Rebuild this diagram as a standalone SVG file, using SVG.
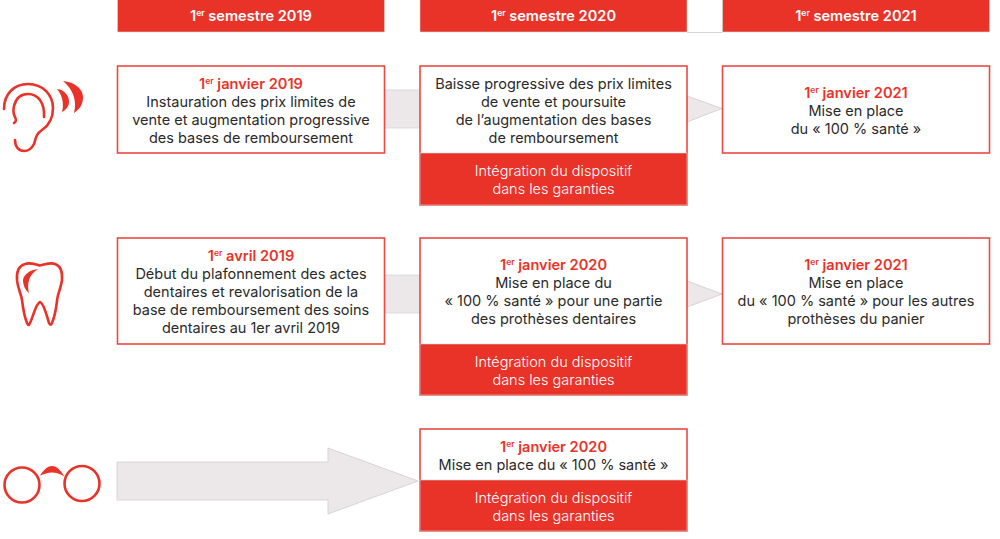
<svg xmlns="http://www.w3.org/2000/svg" width="1000" height="539" viewBox="0 0 1000 539">
<style>
text{font-family:"Inter","Liberation Sans",sans-serif;font-size:14.5px;text-anchor:middle;fill:#2b2a29}
.h{font-weight:600;fill:#fff;font-size:14.600px}
.d{font-weight:600;fill:#e93329;font-size:14.600px}
.w{fill:#fff;font-weight:300}
.sup{font-size:8.500px;baseline-shift:5px}
.box{fill:#fff;stroke:#ea4a42;stroke-width:1.6}
.red{fill:#e93329;stroke:#d9d5d5;stroke-width:.6}
.arr{fill:#ece8e9;stroke:#d8d4d5;stroke-width:1}
.ic{fill:none;stroke:#e93329;stroke-width:2.6;stroke-linecap:round;stroke-linejoin:round}
.if{fill:#e93329}
</style>
<g id="connectors">
<rect x="385" y="90" width="36" height="38" fill="#ece8e9" stroke="#d8d4d5" stroke-width=".8"/>
<polygon class="arr" points="687,96 722,108.500 687,122"/>
<rect x="385" y="275" width="36" height="38" fill="#ece8e9" stroke="#d8d4d5" stroke-width=".8"/>
<polygon class="arr" points="687,281 722,294 687,307"/>
<polygon class="arr" points="117,462 328,462 328,448 418,481 328,514 328,500 117,500"/>
<line x1="687" y1="32.500" x2="722" y2="32.500" stroke="#d8d4d5"/>
</g>
<g id="header-2019"><rect class="red" x="117.500" y="-1" width="267" height="33"/><text class="h" x="251" y="21">1<tspan class="sup">er</tspan> semestre 2019</text></g>
<g id="header-2020"><rect class="red" x="420" y="-1" width="267" height="33"/><text class="h" x="553.500" y="21">1<tspan class="sup">er</tspan> semestre 2020</text></g>
<g id="header-2021"><rect class="red" x="722.500" y="-1" width="267" height="33"/><text class="h" x="856" y="21">1<tspan class="sup">er</tspan> semestre 2021</text></g>

<g id="icon-ear">
<path class="ic" d="M4 109C4 93 15 84 28 84C43 84 53 95 53 108C53 119 48 126 42 130C36 134 36 138 34 144C31 150 27 151 24 151C19 151 15 147 15 140"/>
<path class="ic" d="M14 123C17 121 16 119 15 117C13 113 13 110 14 106C16 98 21 94 28 94C38 94 45 103 44 117"/>
<path class="if" d="M57 89C65 90 69 96 69 102C69 106 66 110 62 112C64 105 63 96 57 89Z"/>
<path class="if" d="M63 81C75 82 83 89 83 97C83 104 80 109 74 113C77 102 74 90 63 81Z"/>
</g>

<g id="a1"><rect class="box" x="117.500" y="66" width="267" height="87"/>
<text class="d" x="251" y="89">1<tspan class="sup">er</tspan> janvier 2019</text>
<text x="251" y="107">Instauration des prix limites de</text>
<text x="251" y="125">vente et augmentation progressive</text>
<text x="251" y="143">des bases de remboursement</text></g>
<g id="a2"><rect class="box" x="420" y="66" width="267" height="139"/><rect class="red" x="420" y="153" width="267" height="52"/>
<text x="553.500" y="89">Baisse progressive des prix limites</text>
<text x="553.500" y="107">de vente et poursuite</text>
<text x="553.500" y="125">de l’augmentation des bases</text>
<text x="553.500" y="143">de remboursement</text>
<text class="w" x="553.500" y="176">Intégration du dispositif</text>
<text class="w" x="553.500" y="194">dans les garanties</text></g>
<g id="a3"><rect class="box" x="722.500" y="66" width="267" height="87"/>
<text class="d" x="856" y="98">1<tspan class="sup">er</tspan> janvier 2021</text>
<text x="856" y="116">Mise en place</text>
<text x="856" y="134">du « 100 % santé »</text></g>

<g id="b1"><rect class="box" x="117.500" y="238" width="267" height="106"/>
<text class="d" x="251" y="261">1<tspan class="sup">er</tspan> avril 2019</text>
<text x="251" y="279">Début du plafonnement des actes</text>
<text x="251" y="297">dentaires et revalorisation de la</text>
<text x="251" y="315">base de remboursement des soins</text>
<text x="251" y="333">dentaires au 1er avril 2019</text></g>
<g id="b2"><rect class="box" x="420" y="238" width="267" height="157"/><rect class="red" x="420" y="344" width="267" height="51"/>
<text class="d" x="553.500" y="270">1<tspan class="sup">er</tspan> janvier 2020</text>
<text x="553.500" y="288">Mise en place du</text>
<text x="553.500" y="306">« 100 % santé » pour une partie</text>
<text x="553.500" y="324">des prothèses dentaires</text>
<text class="w" x="553.500" y="367">Intégration du dispositif</text>
<text class="w" x="553.500" y="385">dans les garanties</text></g>
<g id="b3"><rect class="box" x="722.500" y="238" width="267" height="106"/>
<text class="d" x="856" y="270">1<tspan class="sup">er</tspan> janvier 2021</text>
<text x="856" y="288">Mise en place</text>
<text x="856" y="306">du « 100 % santé » pour les autres</text>
<text x="856" y="324">prothèses du panier</text></g>

<g id="c2"><rect class="box" x="420" y="429" width="267" height="102"/><rect class="red" x="420" y="480" width="267" height="51"/>
<text class="d" x="553.500" y="452">1<tspan class="sup">er</tspan> janvier 2020</text>
<text x="553.500" y="470">Mise en place du « 100 % santé »</text>
<text class="w" x="553.500" y="503">Intégration du dispositif</text>
<text class="w" x="553.500" y="521">dans les garanties</text></g>

<g id="icon-tooth">
<path class="ic" d="M25 264C31 262 36 265 40 265.500C44 265 50 262 55 264C61 266 62.500 273 62 280C61 288 57.500 294 57 301C56 310 54 318 52 323C51 325.500 50 325 49 323C47 317 44 303 40 302C36 303 33 317 30 323C29 325.500 28 325.500 27 323C24 316 23 308 22 300C21 293 17.500 288 17 280C16.500 273 18 266 25 264Z"/>
<path class="if" d="M38 269C30 270 24 274 23 280C23 286 26 291 29 293C27 285 28 275 38 269Z"/>
</g>
<g id="icon-glasses">
<circle class="ic" cx="22" cy="485" r="17.500"/>
<circle class="ic" cx="82" cy="483.500" r="17.500"/>
<path class="if" d="M40 475.500C43 471 47 466 52 466C57 466 61 471 64.500 476.500C60 474 56 472.500 52 472.500C48 472.500 44 474 40 475.500Z"/>
</g>
</svg>
